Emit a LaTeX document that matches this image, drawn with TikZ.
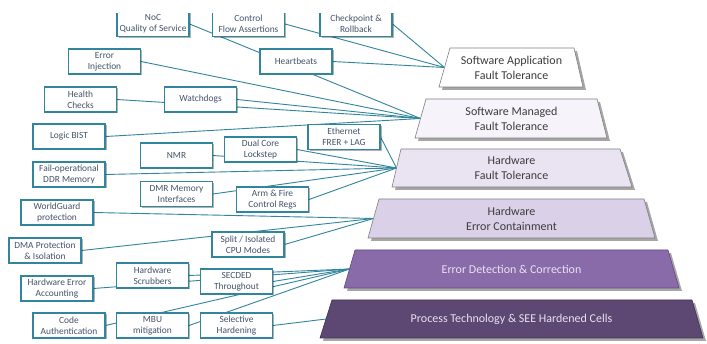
\documentclass[tikz,border=0pt]{standalone}
\usepackage{fontspec}
\setmainfont{Carlito}
\usetikzlibrary{shadows,backgrounds}
\definecolor{tealline}{HTML}{31859C}
\definecolor{boxtext}{HTML}{44546A}
\definecolor{tierA}{HTML}{FFFFFF}
\definecolor{tierB}{HTML}{F6F3FA}
\definecolor{tierC}{HTML}{EAE4F2}
\definecolor{tierD}{HTML}{DAD0E8}
\definecolor{tierE}{HTML}{8A6BAA}
\definecolor{tierF}{HTML}{5C4873}
\definecolor{tiertextdark}{HTML}{3C3C3C}
\definecolor{tiertextlight}{HTML}{E8E2EF}
\begin{document}
\begin{tikzpicture}[x=1pt,y=-1pt,
  fbox/.style={draw=tealline, line width=1.1pt, fill=white, minimum width=72pt,
    minimum height=25pt, inner sep=0pt, align=center,
    font=\fontsize{9.4}{11}\selectfont, text=boxtext,
    drop shadow={shadow xshift=1.5pt, shadow yshift=-1.5pt, fill=black, opacity=0.3}},
  link/.style={draw=tealline, line width=0.9pt},
  tier/.style={draw=black!50, line width=0.6pt,
    drop shadow={shadow xshift=3pt, shadow yshift=-3pt, fill=black, opacity=0.35}},
  tiertext/.style={align=center, font=\fontsize{12}{15}\selectfont, text=tiertextdark}
]
\useasboundingbox (0,0) rectangle (707,344);

% boxes
\node[fbox] (noc) at (153,24) {NoC\\Quality of Service};
\node[fbox] (control) at (248.5,24) {Control\\Flow Assertions};
\node[fbox] (checkpoint) at (356,24) {Checkpoint \&\\Rollback};
\node[fbox] (heartbeats) at (296,61.5) {Heartbeats};
\node[fbox] (errinj) at (104.5,61.5) {Error\\Injection};
\node[fbox] (health) at (80.5,99.5) {Health\\Checks};
\node[fbox] (watchdogs) at (200.5,99.5) {Watchdogs};
\node[fbox] (bist) at (69,136.5) {Logic BIST};
\node[fbox] (ethernet) at (344,137) {Ethernet\\FRER + LAG};
\node[fbox] (nmr) at (176.5,155.5) {NMR};
\node[fbox] (dualcore) at (260.5,149.5) {Dual Core\\Lockstep};
\node[fbox] (failop) at (69,174.5) {Fail-operational\\DDR Memory};
\node[fbox] (dmr) at (176.5,194) {DMR Memory\\Interfaces};
\node[fbox] (armfire) at (272.5,199.5) {Arm \& Fire\\Control Regs};
\node[fbox] (worldguard) at (57,212.5) {WorldGuard\\protection};
\node[fbox] (dma) at (45,250.5) {DMA Protection\\\& Isolation};
\node[fbox] (split) at (248,244.5) {Split / Isolated\\CPU Modes};
\node[fbox] (scrub) at (152.5,275.5) {Hardware\\Scrubbers};
\node[fbox] (hea) at (57,288.5) {Hardware Error\\Accounting};
\node[fbox] (secded) at (236.5,281.5) {SECDED\\Throughout};
\node[fbox] (codeauth) at (69,325.5) {Code\\Authentication};
\node[fbox] (mbu) at (152.5,325.5) {MBU\\mitigation};
\node[fbox] (selective) at (236.5,325.5) {Selective\\Hardening};

% tier anchors (left edge midpoints)
\coordinate (L1) at (444.5,67.5);
\coordinate (L2) at (420.5,118.5);
\coordinate (L3) at (396.5,168);
\coordinate (L4) at (373.5,218.5);
\coordinate (L5) at (349.5,269);
\coordinate (L6) at (326,319);

% connectors (behind the boxes)
\begin{scope}[on background layer]
\fill[white] (0,0) rectangle (707,344);
\foreach \s in {control,checkpoint,heartbeats} \draw[link] (\s.east) -- (L1);
\foreach \s in {noc,errinj,health,watchdogs,bist} \draw[link] (\s.east) -- (L2);
\foreach \s in {ethernet,dualcore,nmr,failop,dmr,armfire} \draw[link] (\s.east) -- (L3);
\foreach \s in {worldguard,dma,split} \draw[link] (\s.east) -- (L4);
\foreach \s in {hea,scrub,secded,codeauth,mbu} \draw[link] (\s.east) -- (L5);
\draw[link] (selective.east) -- (L6);
\end{scope}

% tiers
\filldraw[tier, fill=tierA] (450,48) -- (574,48) -- (583,87) -- (439,87) -- cycle;
\filldraw[tier, fill=tierB] (426,99) -- (597,99) -- (607,138) -- (415,138) -- cycle;
\filldraw[tier, fill=tierC] (401,149) -- (620,149) -- (632,187) -- (392,187) -- cycle;
\filldraw[tier, fill=tierD] (379,199) -- (644,199) -- (655,238) -- (368,238) -- cycle;
\filldraw[tier, fill=tierE, draw=tierE!70!black] (355,250) -- (668,250) -- (679,288) -- (344,288) -- cycle;
\filldraw[tier, fill=tierF, draw=tierF!70!black] (332,300) -- (692,300) -- (703,338) -- (320,338) -- cycle;

\node[tiertext] (t1) at (511.5,67.5) {Software Application\\Fault Tolerance};
\node[tiertext] (t2) at (511.5,118.5) {Software Managed\\Fault Tolerance};
\node[tiertext] (t3) at (511.5,168) {Hardware\\Fault Tolerance};
\node[tiertext] (t4) at (511.5,218.5) {Hardware\\Error Containment};
\node[tiertext, text=tiertextlight] (t5) at (511.5,269) {Error Detection \& Correction};
\node[tiertext, text=tiertextlight] (t6) at (511.5,319) {Process Technology \& SEE Hardened Cells};

% crop of the top row (their top edges lie outside the view)
\fill[white] (0,0) rectangle (707,12.6);
\end{tikzpicture}
\end{document}
